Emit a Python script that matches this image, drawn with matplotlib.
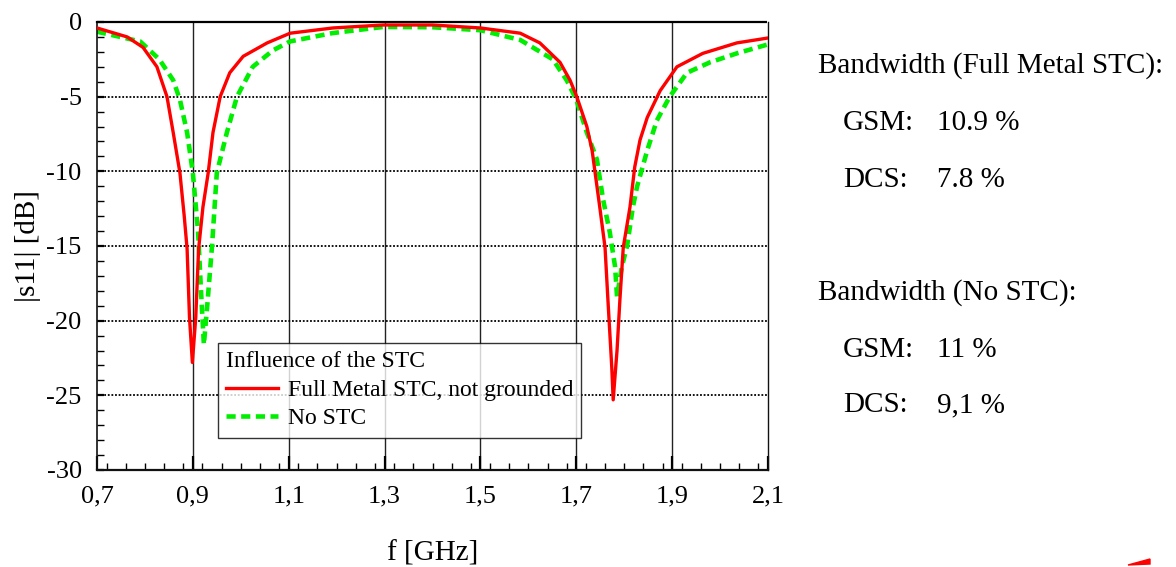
import matplotlib
matplotlib.use('Agg')
import matplotlib.pyplot as plt
from matplotlib.ticker import MultipleLocator

plt.rcParams['font.family'] = ['Liberation Serif', 'DejaVu Serif']
plt.rcParams['axes.unicode_minus'] = False

# Full Metal STC, not grounded
f_metal = [0.70, 0.763, 0.796, 0.825, 0.846, 0.859, 0.873, 0.882, 0.888, 0.893, 0.899,
           0.906, 0.912, 0.921, 0.932, 0.942, 0.957, 0.977, 1.005, 1.055, 1.103, 1.192,
           1.297, 1.40, 1.50, 1.583, 1.624, 1.666, 1.687, 1.701, 1.722, 1.733, 1.749,
           1.76, 1.766, 1.774, 1.777, 1.785, 1.791, 1.798, 1.812, 1.822, 1.833, 1.848,
           1.875, 1.91, 1.964, 2.035, 2.10]
s11_metal = [-0.4, -1.0, -1.7, -3.0, -5.0, -7.4, -10.1, -13.0, -15.2, -19.8, -22.8,
             -19.8, -15.2, -12.4, -10.1, -7.4, -5.0, -3.4, -2.3, -1.4, -0.75, -0.4,
             -0.2, -0.2, -0.4, -0.75, -1.4, -2.7, -3.9, -5.0, -7.0, -8.6, -12.4,
             -15.1, -18.6, -23.1, -25.3, -22.0, -18.6, -15.1, -12.4, -9.7, -7.9, -6.4,
             -4.6, -3.0, -2.1, -1.4, -1.07]

# No STC
f_nostc = [0.70, 0.79, 0.83, 0.859, 0.873, 0.888, 0.90, 0.911, 0.917, 0.923, 0.93,
           0.94, 0.95, 0.971, 0.992, 1.025, 1.067, 1.103, 1.19, 1.297, 1.40, 1.50,
           1.583, 1.651, 1.68, 1.70, 1.722, 1.743, 1.756, 1.77, 1.781, 1.785, 1.795,
           1.806, 1.818, 1.827, 1.848, 1.868, 1.895, 1.931, 1.979, 2.035, 2.10]
s11_nostc = [-0.65, -1.3, -2.5, -3.9, -5.2, -7.4, -10.1, -14.1, -18.0, -21.6, -19.0,
             -15.0, -10.1, -7.4, -5.0, -3.0, -1.9, -1.3, -0.75, -0.33, -0.35, -0.55,
             -1.2, -2.5, -3.9, -5.2, -7.4, -9.2, -11.9, -14.1, -16.4, -18.4, -16.4,
             -15.0, -12.4, -11.0, -8.6, -6.6, -5.0, -3.4, -2.7, -2.1, -1.5]

xticks = [0.7, 0.9, 1.1, 1.3, 1.5, 1.7, 1.9, 2.1]
xtick_labels = ['0,7', '0,9', '1,1', '1,3', '1,5', '1,7', '1,9', '2,1']
yticks = [0, -5, -10, -15, -20, -25, -30]

bw_lines = [('Bandwidth (Full Metal STC):', None),
            ('GSM:', '10.9 %'),
            ('DCS:', '7.8 %'),
            ('Bandwidth (No STC):', None),
            ('GSM:', '11 %'),
            ('DCS:', '9,1 %')]
bw_y = [66, 123, 180, 293, 350, 405]

fig = plt.figure(figsize=(11.76, 5.67), dpi=100)
ax = fig.add_axes([97/1176, 1 - 470/567, (768-97)/1176, (470-22)/567])

# grid
for x in xticks[1:-1]:
    ax.axvline(x, color='#222222', lw=1.0, zorder=1)
for y in yticks[1:-1]:
    ax.axhline(y, color='black', lw=1.3, ls=(0, (1, 1)), zorder=1)

ax.plot(f_metal, s11_metal, color='#ff0000', lw=2.4, zorder=3,
        label='Full Metal STC, not grounded', solid_joinstyle='round')
ax.plot(f_nostc, s11_nostc, color='#00ee00', lw=3.3, dashes=(2.0, 1.2), zorder=2,
        label='No STC')

ax.set_xlim(0.7, 2.1)
ax.set_ylim(-30, 0)
ax.set_xticks(xticks)
ax.set_xticklabels(xtick_labels)
ax.set_yticks(yticks)
ax.xaxis.set_minor_locator(MultipleLocator(0.04))
ax.yaxis.set_minor_locator(MultipleLocator(1))
ax.tick_params(which='major', direction='in', length=10, width=1.6, labelsize=19,
               top=False, right=False)
ax.tick_params(axis='x', which='major', pad=11)
ax.tick_params(axis='y', which='major', length=5, pad=11)
ax.tick_params(which='minor', direction='in', length=5, width=1.0,
               top=False, right=False)
ax.spines['top'].set_linestyle((0, (1, 1)))
ax.spines['top'].set_linewidth(1.6)
ax.spines['bottom'].set_linewidth(1.6)
for s in ['left', 'right', 'bottom']:
    ax.spines[s].set_color('#111111')
ax.spines['left'].set_linewidth(1.2)
ax.spines['right'].set_linewidth(1.0)

ax.set_xlabel('f [GHz]', fontsize=21, labelpad=24)
ax.set_ylabel('|s11| [dB]', fontsize=21, labelpad=4)

leg = ax.legend(loc='upper left', bbox_to_anchor=((218-97)/671, (470-343)/448),
                title='Influence of the STC', fontsize=17, title_fontsize=17,
                frameon=True, fancybox=False, edgecolor='black',
                handlelength=2.2, handletextpad=0.4, labelspacing=0.3,
                borderpad=0.35, borderaxespad=0)
leg._legend_box.align = 'left'
leg.get_frame().set_linewidth(1.0)

for (label, val), y in zip(bw_lines, bw_y):
    yf = 1 - y / 567
    if val is None:
        fig.text(818/1176, yf, label, fontsize=21, va='center', ha='left')
    else:
        fig.text(843/1176, yf, label, fontsize=21, va='center', ha='left')
        fig.text(937/1176, yf, val, fontsize=21, va='center', ha='left')

# small red mark at the bottom right edge
fig.patches.append(plt.Polygon([[1128/1176, 2/567], [1150/1176, 8/567], [1150/1176, 3/567]],
                               closed=True, transform=fig.transFigure,
                               color='#ff0000', figure=fig))

fig.savefig('out.png', dpi=100)
